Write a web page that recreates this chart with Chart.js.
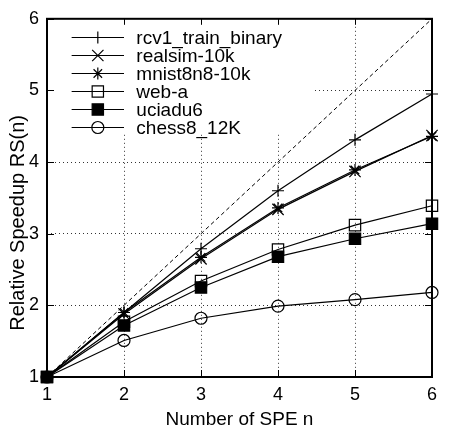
<!DOCTYPE html>
<html>
<head>
<meta charset="utf-8">
<script src="https://cdn.jsdelivr.net/npm/chart.js@4.4.0/dist/chart.umd.min.js"></script>
<style>
  html, body { margin: 0; padding: 0; background: #fff; }
  #wrap { width: 453px; height: 432px; }
</style>
</head>
<body>
<div id="wrap"><canvas id="speedupChart" width="453" height="432"></canvas></div>
<script>
// Data
const speCounts = [1, 2, 3, 4, 5, 6];
const idealSpeedup = [1, 2, 3, 4, 5, 6];
const rcv1 = [1, 1.9, 2.79, 3.6, 4.31, 4.95];
const realsim = [1, 1.88, 2.65, 3.34, 3.87, 4.37];
const mnist = [1, 1.9, 2.67, 3.36, 3.89, 4.36];
const webA = [1, 1.77, 2.34, 2.78, 3.12, 3.39];
const uciadu6 = [1, 1.72, 2.25, 2.68, 2.93, 3.14];
const chess = [1, 1.51, 1.82, 1.99, 2.08, 2.18];
const seriesNames = ["rcv1_train_binary", "realsim-10k", "mnist8n8-10k", "web-a", "uciadu6", "chess8_12K"];
const xTicks = [1, 2, 3, 4, 5, 6];
const yTicks = [1, 2, 3, 4, 5, 6];

// Marker looks (gnuplot-like)
const seriesValues = [rcv1, realsim, mnist, webA, uciadu6, chess];
const pointStyles = ["cross", "crossRot", "star", "rect", "rect", "circle"];
const pointRadii = [6, 8, 6, 8, 8, 6];
const pointFills = ["#000", "#000", "#000", "rgba(0,0,0,0)", "#000", "rgba(0,0,0,0)"];

const FONT = "'Liberation Sans', Arial, Helvetica, sans-serif";
const toPoints = (values) => values.map((v, i) => ({ x: speCounts[i], y: v }));

const datasets = seriesValues.map((values, i) => ({
  label: seriesNames[i],
  data: toPoints(values),
  borderColor: "#000",
  borderWidth: 1.2,
  pointStyle: pointStyles[i],
  pointRadius: pointRadii[i],
  pointBackgroundColor: pointFills[i],
  pointBorderColor: "#000",
  pointBorderWidth: 1.2,
  clip: false,
  order: seriesNames.length - i,
}));

datasets.push({
  label: "ideal",
  data: toPoints(idealSpeedup),
  borderColor: "#000",
  borderWidth: 1,
  borderDash: [4, 3],
  pointRadius: 0,
  order: 100,
});

// Opaque key box, frame, inward tics and the key itself
const keyPlugin = {
  id: "gnuKey",
  beforeDatasetsDraw(chart) {
    const { ctx, chartArea: a, scales: { x, y } } = chart;
    ctx.save();
    ctx.fillStyle = "#fff";
    ctx.fillRect(a.left + 1, a.top + 1, x.getPixelForValue(4.45) - a.left - 1, y.getPixelForValue(4.42) - a.top - 1);

    ctx.strokeStyle = "#000";
    ctx.lineWidth = 1;
    ctx.beginPath();
    xTicks.forEach((v) => {
      const px = Math.round(x.getPixelForValue(v)) + 0.5;
      ctx.moveTo(px, a.bottom); ctx.lineTo(px, a.bottom - 7);
      ctx.moveTo(px, a.top); ctx.lineTo(px, a.top + 6);
    });
    yTicks.forEach((v) => {
      const py = Math.round(y.getPixelForValue(v)) + 0.5;
      ctx.moveTo(a.left, py); ctx.lineTo(a.left + 7, py);
      ctx.moveTo(a.right, py); ctx.lineTo(a.right - 7, py);
    });
    ctx.stroke();

    ctx.lineWidth = 2;
    ctx.strokeRect(a.left, a.top, a.right - a.left, a.bottom - a.top);
    ctx.restore();
  },
  afterDatasetsDraw(chart) {
    const { ctx, chartArea: a, scales: { x } } = chart;
    const ux = x.getPixelForValue(2) - x.getPixelForValue(1);
    const x0 = a.left + 0.32 * ux;
    const x1 = a.left + 1.0 * ux;
    const xm = (x0 + x1) / 2;
    const tx = a.left + 1.16 * ux;
    ctx.save();
    ctx.font = "19px " + FONT;
    ctx.textBaseline = "middle";
    seriesNames.forEach((name, i) => {
      const ry = Math.round(a.top + 18 + i * 18) + 0.5;
      ctx.strokeStyle = "#000";
      ctx.lineWidth = 1.2;
      ctx.setLineDash([]);
      ctx.beginPath();
      ctx.moveTo(x0, ry);
      ctx.lineTo(x1, ry);
      ctx.stroke();
      ctx.fillStyle = pointFills[i];
      Chart.helpers.drawPoint(ctx, { pointStyle: pointStyles[i], radius: pointRadii[i], borderWidth: 1.2, rotation: 0 }, xm, ry);
      ctx.fillStyle = "#000";
      ctx.fillText(name, tx, ry + 1);
    });
    ctx.restore();
  },
};

const gridColor = (c) => (c.tick && (c.tick.value === 1 || c.tick.value === 6) ? "rgba(0,0,0,0)" : "#333");

new Chart(document.getElementById("speedupChart"), {
  type: "line",
  data: { datasets },
  plugins: [keyPlugin],
  options: {
    responsive: false,
    animation: false,
    events: [],
    layout: { padding: { top: 12, right: 21, left: 0, bottom: 0 } },
    plugins: { legend: { display: false }, tooltip: { enabled: false } },
    scales: {
      x: {
        type: "linear",
        min: 1,
        max: 6,
        afterFit: (s) => { s.height = 55; },
        afterBuildTicks: (s) => { s.ticks = xTicks.map((v) => ({ value: v })); },
        ticks: { color: "#000", padding: 7, font: { family: FONT, size: 18 } },
        grid: { drawTicks: false, color: gridColor, lineWidth: 1 },
        border: { display: false, dash: [1, 3] },
        title: { display: true, text: "Number of SPE n", color: "#000", font: { family: FONT, size: 19 }, padding: { top: 0, bottom: 1 } },
      },
      y: {
        type: "linear",
        min: 1,
        max: 6,
        afterFit: (s) => { s.width = 47; },
        afterBuildTicks: (s) => { s.ticks = yTicks.map((v) => ({ value: v })); },
        ticks: { color: "#000", padding: 8, font: { family: FONT, size: 18 } },
        grid: { drawTicks: false, color: gridColor, lineWidth: 1 },
        border: { display: false, dash: [1, 3] },
        title: { display: true, text: "Relative Speedup RS(n)         ", color: "#000", font: { family: FONT, size: 20 }, padding: { top: 6, bottom: 0 } },
      },
    },
  },
});
</script>
</body>
</html>
